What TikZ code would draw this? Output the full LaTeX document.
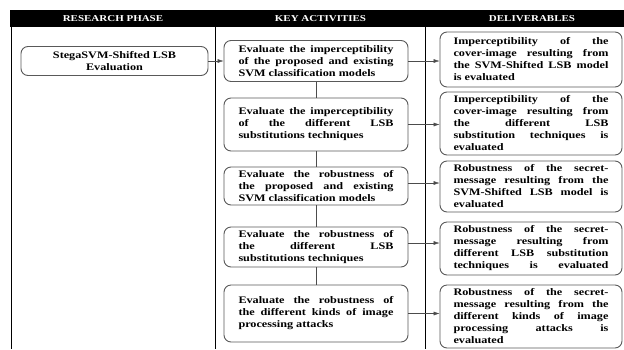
\documentclass[tikz,border=0pt]{standalone}
\usepackage{fontspec}
\setmainfont[FakeStretch=1.22]{Liberation Serif}
\usetikzlibrary{arrows.meta}
\tolerance=10000 \hbadness=10000 \hyphenpenalty=10000 \exhyphenpenalty=10000
\tikzset{
  hdr/.style={text=white,font=\bfseries\fontsize{9}{10}\selectfont},
  phasebox/.style={draw=black!65,line width=.9pt,rounded corners=7pt,align=center,font=\bfseries,minimum width=187pt,minimum height=29pt,inner sep=2pt},
  actbox/.style={draw=black!65,line width=.9pt,rounded corners=7pt,align=justify,text width=155pt,inner xsep=14.5pt,inner ysep=1.5pt,font=\bfseries},
  delbox/.style={actbox,inner xsep=13.5pt}
}
\begin{document}
\begin{tikzpicture}[x=1pt,y=-1pt,>={Latex[length=6pt,width=4pt]}]
\useasboundingbox (0,0) rectangle (624,349);
\fill (10,10) rectangle (624,27);
\draw[line width=.8pt] (11,27)--(11,349) (215,27)--(215,349) (425,27)--(425,349);
\node[hdr] (h1) at (113,18.5) {RESEARCH PHASE};
\node[hdr] (h2) at (320.5,18.5) {KEY ACTIVITIES};
\node[hdr] (h3) at (532,18.5) {DELIVERABLES};

\node[phasebox] (ph) at (114.5,61) {StegaSVM-Shifted LSB\\Evaluation};

\node[actbox,minimum height=41pt] (a1) at (316,61) {Evaluate the imperceptibility\linebreak of the proposed and existing\linebreak SVM classification models};
\node[actbox,minimum height=53pt] (a2) at (316,124.5) {Evaluate the imperceptibility\linebreak of the different LSB\linebreak substitutions techniques};
\node[actbox,minimum height=38pt] (a3) at (316,186) {Evaluate the robustness of\linebreak the proposed and existing\linebreak SVM classification models};
\node[actbox,minimum height=40pt] (a4) at (316,247) {Evaluate the robustness of\linebreak the different LSB\linebreak substitutions techniques};
\node[actbox,minimum height=57pt] (a5) at (316,313.5) {Evaluate the robustness of\linebreak the different kinds of image\linebreak processing attacks};

\node[delbox,minimum height=55pt] (d1) at (531,59.5) {Imperceptibility of the\linebreak cover-image resulting from\linebreak the SVM-Shifted LSB model\linebreak is evaluated};
\node[delbox,minimum height=63pt] (d2) at (531,123.5) {Imperceptibility of the\linebreak cover-image resulting from\linebreak the different LSB\linebreak substitution techniques is\linebreak evaluated};
\node[delbox,minimum height=51pt] (d3) at (531,186.5) {Robustness of the secret-\linebreak message resulting from the\linebreak SVM-Shifted LSB model is\linebreak evaluated};
\node[delbox,minimum height=53pt] (d4) at (531,248.5) {Robustness of the secret-\linebreak message resulting from\linebreak different LSB substitution\linebreak techniques is evaluated\parfillskip=0pt\par};
\node[delbox,minimum height=63pt] (d5) at (531,316.5) {Robustness of the secret-\linebreak message resulting from the\linebreak different kinds of image\linebreak processing attacks is\linebreak evaluated};

\draw[black!70,->] (ph) -- (a1);
\draw[black!70] (a1) -- (a2) (a2) -- (a3) (a3) -- (a4) (a4) -- (a5);
\draw[black!70,->] (a1.east) -- (a1.east -| d1.west);
\draw[black!70,->] (a2.east) -- (a2.east -| d2.west);
\draw[black!70,->] ([yshift=3pt]a3.east) -- ([yshift=3pt]a3.east -| d3.west);
\draw[black!70,->] ([yshift=4pt]a4.east) -- ([yshift=4pt]a4.east -| d4.west);
\draw[black!70,->] (a5.east) -- (a5.east -| d5.west);
\end{tikzpicture}
\end{document}
